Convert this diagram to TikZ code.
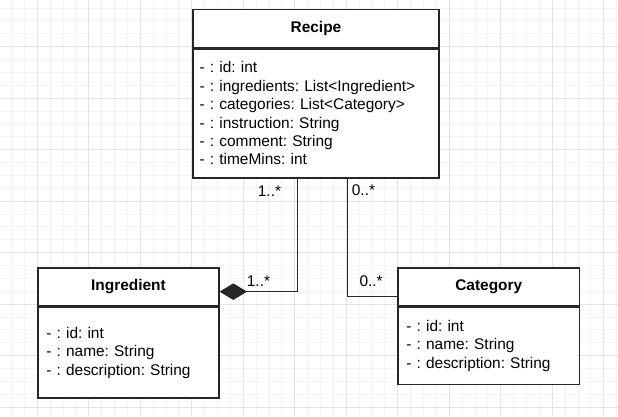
\documentclass[tikz,border=0pt]{standalone}
\usepackage{fontspec}
\setmainfont{Liberation Sans}
\usetikzlibrary{arrows.meta, positioning, calc}
\definecolor{umlline}{HTML}{262626}
\definecolor{gridfine}{HTML}{F3F3F3}
\definecolor{gridmajor}{HTML}{E4E4E4}
\frenchspacing

\begin{document}
\begin{tikzpicture}[x=1pt, y=-1pt,
    classhead/.style={draw=umlline, line width=1.3pt, fill=white, anchor=north west, inner sep=0pt, minimum height=38pt, font=\fontsize{15.45}{18.4}\selectfont\bfseries},
    classbody/.style={draw=umlline, line width=1.3pt, fill=white, inner ysep=0pt, align=left, font=\fontsize{15.45}{18.4}\selectfont\frenchspacing},
    relation/.style={draw=umlline, line width=1.3pt},
    mult/.style={anchor=base west, inner sep=0pt, font=\fontsize{15.45}{18.4}\selectfont}
]

% Background grid
\fill[white] (0,0) rectangle (618,416);
\useasboundingbox (0,0) rectangle (618,416);
\foreach \i in {0,...,47}
    \draw[gridfine, line width=1pt] ({11.55+12.875*\i},0) -- ({11.55+12.875*\i},416);
\foreach \j in {0,...,31}
    \draw[gridfine, line width=1pt] (0,{8.1+12.875*\j}) -- (618,{8.1+12.875*\j});
\foreach \i in {0,...,11}
    \draw[gridmajor, line width=1pt] ({37.3+51.5*\i},0) -- ({37.3+51.5*\i},416);
\foreach \j in {0,...,7}
    \draw[gridmajor, line width=1pt] (0,{46.7+51.5*\j}) -- (618,{46.7+51.5*\j});

% Recipe class
\node[classhead, minimum width=246pt] (recipe) at (192.3,9) {Recipe};
\node[classbody, below=0pt of recipe, minimum width=246pt, text width=232.6pt, inner xsep=6.7pt, minimum height=129pt] (recipebody) {%
- : id: int\\
- : ingredients: List<Ingredient>\\
- : categories: List<Category>\\
- : instruction: String\\
- : comment: String\\
- : timeMins: int};

% Ingredient class
\node[classhead, minimum width=181pt] (ingredient) at (37.3,267.3) {Ingredient};
\node[classbody, below=0pt of ingredient, minimum width=181pt, text width=164.2pt, inner xsep=8.4pt, minimum height=90.7pt] (ingredientbody) {%
- : id: int\\
- : name: String\\
- : description: String};

% Category class
\node[classhead, minimum width=181.7pt] (category) at (397.3,267.3) {Category};
\node[classbody, below=0pt of category, minimum width=181.7pt, text width=164.9pt, inner xsep=8.4pt, minimum height=77pt] (categorybody) {%
- : id: int\\
- : name: String\\
- : description: String};

% Associations
\draw[relation, -{Diamond[length=27.4pt, width=16.5pt]}] ([xshift=-18.6pt]recipebody.south) |- ([yshift=-4.7pt]ingredient.east);
\draw[relation] ([xshift=31.4pt]recipebody.south) |- ([yshift=-9.4pt]category.west);

% Multiplicities
\node[mult] (multrecipeing) at (257.7,196) {1..*};
\node[mult] (multing) at (246.7,286) {1..*};
\node[mult] (multrecipecat) at (351.7,195) {0..*};
\node[mult] (multcat) at (359.3,286.7) {0..*};

\end{tikzpicture}
\end{document}
